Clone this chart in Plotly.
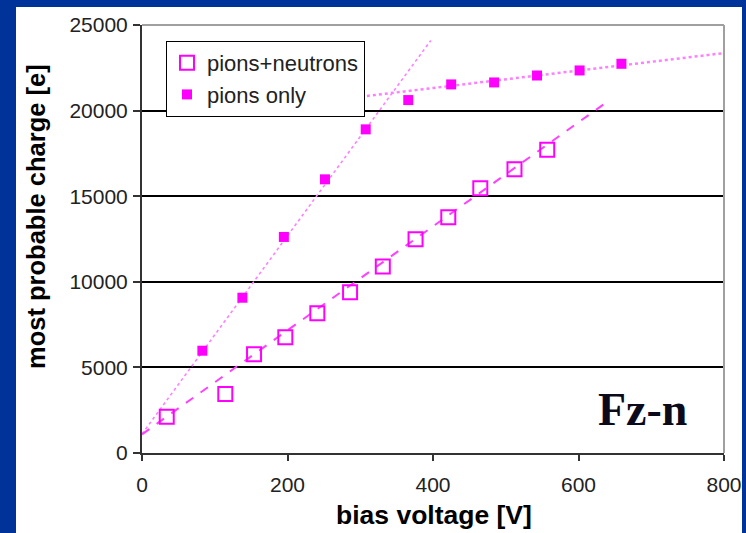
import plotly.graph_objects as go

# ---- data ----
pn_voltage = [34, 114.5, 154, 197, 241, 286, 331, 376, 421, 465, 512, 557]
pn_charge = [2120, 3450, 5770, 6760, 8165, 9390, 10890, 12490, 13775, 15470, 16580, 17710]

po_voltage = [83, 138, 195, 251.5, 307.5, 366, 425, 484, 543, 601.5, 659]
po_charge = [5975, 9070, 12620, 15985, 18905, 20615, 21530, 21645, 22050, 22345, 22735]

# linear trend lines (end points)
trend_po_low_v = [0, 397]
trend_po_low_q = [1110, 24100]
trend_pn_v = [0, 637]
trend_pn_q = [1090, 20440]
trend_po_high_v = [284.6, 800]
trend_po_high_q = [20730, 23360]

x_ticks = [0, 200, 400, 600, 800]
x_tick_labels = ["0", "200", "400", "600", "800"]
y_ticks = [0, 5000, 10000, 15000, 20000, 25000]
y_tick_labels = ["0", "5000", "10000", "15000", "20000", "25000"]

MAG = "#ff00ff"
BLUE = "#003399"

fig = go.Figure()

fig.add_trace(go.Scatter(x=trend_po_low_v, y=trend_po_low_q, mode="lines",
                         line=dict(color="#ff80ff", width=1.6, dash="dot"),
                         showlegend=False, hoverinfo="skip"))
fig.add_trace(go.Scatter(x=trend_pn_v, y=trend_pn_q, mode="lines",
                         line=dict(color="#ff40ff", width=2, dash="dash"),
                         showlegend=False, hoverinfo="skip"))
fig.add_trace(go.Scatter(x=trend_po_high_v, y=trend_po_high_q, mode="lines",
                         line=dict(color="#ff80ff", width=2.5, dash="dot"),
                         showlegend=False, hoverinfo="skip"))

fig.add_trace(go.Scatter(x=pn_voltage, y=pn_charge, mode="markers", name="pions+neutrons",
                         marker=dict(symbol="square-open", size=14, color=MAG,
                                     line=dict(color=MAG, width=2))))
fig.add_trace(go.Scatter(x=po_voltage, y=po_charge, mode="markers", name="pions only",
                         marker=dict(symbol="square", size=10, color=MAG,
                                     line=dict(width=0))))

L, R, T, B = 142, 22, 25, 80
W, H = 746, 533
pw, ph = W - L - R, H - T - B


def px_x(px):
    return (px - L) / pw


def px_y(py):
    return (H - B - py) / ph


fig.update_layout(
    width=W, height=H, autosize=False,
    margin=dict(l=L, r=R, t=T, b=B, pad=0, autoexpand=False),
    paper_bgcolor=BLUE,
    plot_bgcolor="white",
    font=dict(family="Liberation Sans, Arial, sans-serif", color="#222222"),
    showlegend=True,
    legend=dict(x=px_x(166), y=px_y(41), xanchor="left", yanchor="top",
                bgcolor="white", bordercolor="black", borderwidth=1,
                font=dict(size=22, color="#222222"),
                itemsizing="trace", tracegroupgap=2),
    xaxis=dict(range=[0, 800], tickvals=x_ticks, ticktext=x_tick_labels,
               showgrid=False, zeroline=False, automargin=False,
               showline=True, linecolor="#333333", linewidth=2,
               ticks="outside", ticklen=6, tickwidth=2, tickcolor="#333333",
               tickfont=dict(size=21), ticklabelstandoff=6),
    yaxis=dict(range=[0, 25000], tickvals=y_ticks, ticktext=y_tick_labels,
               showgrid=True, gridcolor="black", automargin=False,
               gridwidth=1.5, zeroline=False,
               showline=True, linecolor="#333333", linewidth=2,
               ticks="outside", ticklen=7, tickwidth=2, tickcolor="#333333",
               tickfont=dict(size=21), ticklabelstandoff=1),
    shapes=[
        dict(type="rect", xref="paper", yref="paper",
             x0=px_x(16), x1=px_x(742), y0=px_y(540), y1=px_y(7),
             fillcolor="white", line=dict(width=0), layer="below"),
        dict(type="line", xref="paper", yref="paper", x0=0, x1=1, y0=1, y1=1,
             line=dict(color="#a0a0a0", width=2), layer="above"),
        dict(type="line", xref="paper", yref="paper", x0=1, x1=1, y0=0, y1=1,
             line=dict(color="#a0a0a0", width=2), layer="above"),
    ],
    annotations=[
        dict(text="bias voltage [V]", xref="paper", yref="paper",
             x=px_x(434), y=px_y(515), xanchor="center", yanchor="middle",
             showarrow=False, font=dict(size=26.5, color="black",
                                        family="Liberation Sans, Arial, sans-serif", weight="bold")),
        dict(text="most probable charge [e]", xref="paper", yref="paper",
             x=px_x(36), y=px_y(217), xanchor="center", yanchor="middle", textangle=-90,
             showarrow=False, font=dict(size=25.5, color="black",
                                        family="Liberation Sans, Arial, sans-serif", weight="bold")),
        dict(text="<b>Fz-n</b>", xref="paper", yref="paper",
             x=px_x(642), y=px_y(409), xanchor="center", yanchor="middle",
             showarrow=False, font=dict(size=46, color="#0a0a1a",
                                        family="Liberation Serif, Times New Roman, serif")),
    ],
)

fig.write_html("out.html",
               config={"displayModeBar": False, "responsive": False},
               post_script="document.body.style.margin='0';document.body.style.overflow='hidden';")
